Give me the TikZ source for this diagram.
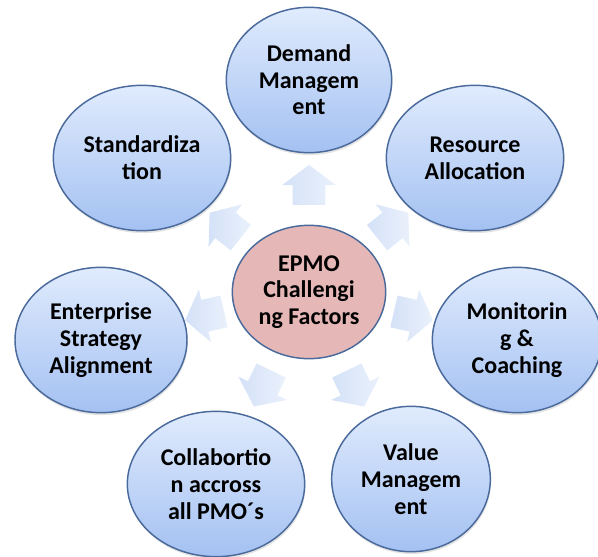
\documentclass[tikz,border=0pt]{standalone}
\usepackage{fontspec}
\setmainfont{Carlito}
\usetikzlibrary{shapes.geometric,shapes.arrows,shadows}
\definecolor{ringblue}{RGB}{74,106,156}
\definecolor{factortop}{RGB}{224,235,253}
\definecolor{factorbot}{RGB}{164,193,242}
\definecolor{hubpink}{RGB}{229,184,183}
\definecolor{arrowtail}{RGB}{212,225,247}
\definecolor{arrowtip}{RGB}{234,241,252}
\begin{document}
\begin{tikzpicture}[x=0.75pt,y=0.75pt,
  every node/.style={font=\bfseries\fontsize{18}{20}\selectfont,align=center,inner sep=0pt},
  factor/.style={ellipse,draw=ringblue,line width=1.1pt,top color=factortop,bottom color=factorbot,
    minimum width=#1,minimum height=109pt,
    drop shadow={opacity=0.22,shadow xshift=0.6pt,shadow yshift=-1.8pt}},
  factor/.default=133pt,
  hub/.style={ellipse,draw=ringblue,line width=1.1pt,fill=hubpink,minimum width=115pt,minimum height=100pt},
  outarrow/.style={single arrow,left color=arrowtail,right color=arrowtip,
    minimum height=30pt,minimum width=40pt,inner xsep=0pt,inner ysep=12pt,
    single arrow head extend=8pt,single arrow tip angle=106}]
\useasboundingbox (0,0) rectangle (598,-556);
\clip (0,0) rectangle (598,-556);
% hub in the middle
\node[hub] (epmo) at (309,-292) {EPMO\\Challengi\\ng Factors};
% seven block arrows pointing outwards
\foreach \k in {0,...,6}{
  \pgfmathsetmacro\ang{90-\k*360/7}
  \node[outarrow,rotate=\ang] (arr\k) at ([shift={(\ang:101)}]epmo.center) {};
}
% the factors around it
\node[factor=124pt] (demand) at (309,-80) {Demand\\Managem\\ent};
\node[factor] (resource) at (475,-158) {Resource\\Allocation};
\node[factor=127pt] (monitoring) at (517,-340) {Monitorin\\g \&\\Coaching};
\node[factor=119pt] (value) at (411,-479) {Value\\Managem\\ent};
\node[factor] (collab) at (216,-484) {Collabortio\\n accross\\all PMO´s};
\node[factor=129pt] (enterprise) at (101,-340) {Enterprise\\Strategy\\Alignment};
\node[factor] (standard) at (142,-158) {Standardiza\\tion};
\end{tikzpicture}
\end{document}
